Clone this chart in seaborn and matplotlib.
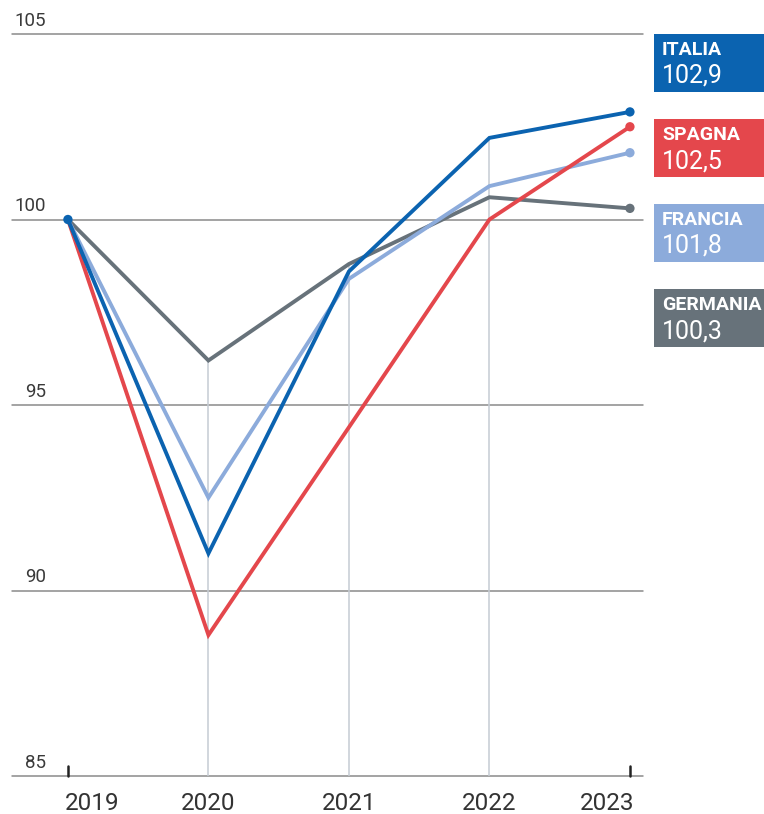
import matplotlib
matplotlib.use("Agg")
import matplotlib.pyplot as plt
import matplotlib.transforms as mtransforms
from matplotlib.patches import Rectangle
import seaborn as sns
import pandas as pd

# GDP index, 2019 = 100
years = [2019, 2020, 2021, 2022, 2023]
italia = [100.0, 91.0, 98.6, 102.2, 102.9]
spagna = [100.0, 88.8, 94.4, 100.0, 102.5]
francia = [100.0, 92.5, 98.4, 100.9, 101.8]
germania = [100.0, 96.2, 98.8, 100.6, 100.3]

countries = ["GERMANIA", "FRANCIA", "SPAGNA", "ITALIA"]
series = {"ITALIA": italia, "SPAGNA": spagna, "FRANCIA": francia, "GERMANIA": germania}
end_labels = {"ITALIA": "102,9", "SPAGNA": "102,5", "FRANCIA": "101,8", "GERMANIA": "100,3"}
y_ticks = [85, 90, 95, 100, 105]

palette = {
    "ITALIA": "#0b63b0",
    "SPAGNA": "#e4474c",
    "FRANCIA": "#8cabdb",
    "GERMANIA": "#67727a",
}

rows = []
for c in countries:
    for yr, v in zip(years, series[c]):
        rows.append({"anno": yr, "valore": v, "paese": c})
df = pd.DataFrame(rows)

sns.set_style("white")
plt.rcParams["font.family"] = ["Roboto", "DejaVu Sans"]

W, H = 764, 814
fig = plt.figure(figsize=(W / 100, H / 100), dpi=100)
ax_left, ax_right, ax_top, ax_bot = 12, 643, 34, 776
ax = fig.add_axes([ax_left / W, (H - ax_bot) / H, (ax_right - ax_left) / W, (ax_bot - ax_top) / H])

ax.set_xlim(2018.602, 2023.093)
ax.set_ylim(85, 105)

# horizontal reference lines
for v in y_ticks:
    ax.axhline(v, color="#8a8a8a", lw=1.1, zorder=1, clip_on=False)
    ax.annotate(str(v), xy=(0.054, v), xycoords=("axes fraction", "data"),
                xytext=(0, 3), textcoords="offset points",
                ha="right", va="bottom", fontsize=13.5, color="#3a3a3a")

# vertical guides up to the highest value of each inner year
for i, yr in enumerate(years[1:-1], start=1):
    top = max(series[c][i] for c in countries)
    ax.vlines(yr, 85, top, color="#c5ccd3", lw=1.1, zorder=1)

sns.lineplot(data=df, x="anno", y="valore", hue="paese", palette=palette,
             hue_order=countries, lw=2.8, ax=ax, legend=False, zorder=3,
             solid_joinstyle="miter")

ends = df[df["anno"].isin([years[0], years[-1]])]
ends = ends[(ends["anno"] == years[-1]) | (ends["paese"] == "ITALIA")]
sns.scatterplot(data=ends, x="anno", y="valore", hue="paese", palette=palette,
                hue_order=countries, s=45, edgecolor="none", ax=ax, legend=False, zorder=4)

# ticks at first and last year
for yr in (years[0], years[-1]):
    ax.plot([yr, yr], [85, 85.28], color="#222222", lw=1.8, zorder=2, clip_on=False)

ax.set_xticks([])
ax.set_yticks([])
ax.set_xlabel("")
ax.set_ylabel("")
for s in ax.spines.values():
    s.set_visible(False)

# year labels
lab_tr = mtransforms.blended_transform_factory(ax.transData, fig.transFigure)
y_lab = (H - 803) / H
for yr in years:
    ha = "center"
    x = yr
    if yr == years[0]:
        ha = "left"
        x = yr - 0.02
    elif yr == years[-1]:
        ha = "right"
        x = yr + 0.03
    ax.text(x, y_lab, str(yr), transform=lab_tr, ha=ha, va="center",
            fontsize=17.5, color="#333333", clip_on=False)

# labelled boxes on the right
box_tops = {"ITALIA": 34, "SPAGNA": 119, "FRANCIA": 204, "GERMANIA": 289}
box_h = 58
for c in ["ITALIA", "SPAGNA", "FRANCIA", "GERMANIA"]:
    t = box_tops[c]
    fig.patches.append(Rectangle((654 / W, (H - t - box_h) / H), (W - 654) / W + 0.01, box_h / H,
                                 transform=fig.transFigure, facecolor=palette[c],
                                 edgecolor="none", zorder=0))
    fig.text(662 / W, (H - t - 16) / H, c, ha="left", va="center", fontsize=14,
             fontweight="bold", color="white")
    fig.text(662 / W, (H - t - 42) / H, end_labels[c], ha="left", va="center",
             fontsize=18, color="white")

fig.savefig("out.png", dpi=100, facecolor="white")
